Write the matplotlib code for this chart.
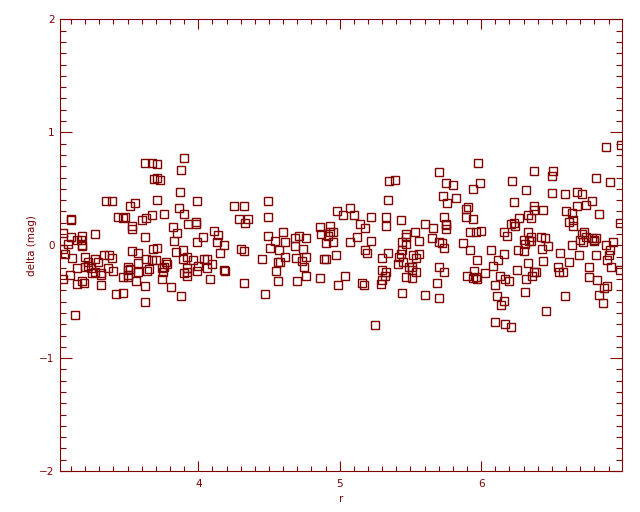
import matplotlib
matplotlib.use('Agg')
import matplotlib.pyplot as plt
from matplotlib.ticker import FixedLocator, MultipleLocator

# values
r = [3.62, 3.67, 3.71, 3.69, 3.71, 3.35, 3.39, 3.52, 3.55, 3.71,
     3.10, 3.10, 3.43, 3.47, 3.48, 3.63, 3.60, 3.67, 3.53, 3.53,
     3.04, 3.10, 3.14, 3.17, 3.18, 3.27, 3.18, 3.18, 3.08, 3.62,
     3.04, 3.06, 3.11, 3.20, 3.53, 3.57, 3.68, 3.71, 3.33, 3.37,
     3.39, 3.27, 3.29, 3.63, 3.67, 3.70, 3.57, 3.22, 3.20, 3.22,
     3.24, 3.14, 3.36, 3.40, 3.50, 3.50, 3.52, 3.57, 3.65, 3.64,
     3.25, 3.27, 3.31, 3.31, 3.09, 3.04, 3.47, 3.50, 3.50, 3.18,
     3.19, 3.14, 3.31, 3.56, 3.62, 3.42, 3.47, 3.62, 3.13,
     3.90, 3.88, 3.73, 3.87, 3.99, 4.25, 4.32, 3.86, 3.90, 3.76,
     4.29, 4.35, 4.33, 3.93, 3.98, 3.98, 3.82, 3.85, 4.11, 4.14,
     4.03, 3.99, 4.13, 3.83, 4.18, 4.30, 4.32, 3.84, 3.89, 4.15,
     3.92, 3.89, 3.96, 4.04, 4.06, 4.10, 4.00, 4.06, 3.77, 3.78,
     3.76, 3.74, 3.75, 3.92, 3.92, 3.99, 3.90, 3.92, 4.18, 4.19,
     4.08, 3.74, 4.32, 3.81, 3.88,
     4.49, 4.49, 4.98, 5.02, 4.86, 4.93, 4.87, 4.93, 4.95, 4.92,
     4.90, 4.95, 4.60, 4.49, 4.54, 4.51, 4.57, 4.61, 4.68, 4.71,
     4.76, 4.68, 4.74, 4.61, 4.45, 4.69, 4.76, 4.73, 4.56, 4.58,
     4.75, 4.55, 4.89, 4.90, 4.97, 4.76, 4.56, 4.70, 4.86, 4.99,
     5.04, 4.47,
     5.35, 5.39, 5.70, 5.34, 5.07, 5.10, 5.14, 5.18, 5.22, 5.33,
     5.33, 5.43, 5.60, 5.66, 5.53, 5.47, 5.47, 5.44, 5.47, 5.56,
     5.65, 5.70, 5.12, 5.07, 5.22, 5.18, 5.19, 5.44, 5.43, 5.42,
     5.34, 5.30, 5.52, 5.56, 5.54, 5.45, 5.41, 5.49, 5.51, 5.51,
     5.54, 5.30, 5.33, 5.32, 5.47, 5.51, 5.30, 5.29, 5.16, 5.17,
     5.44, 5.60, 5.70, 5.69, 5.70, 5.25,
     5.72, 5.74, 5.74, 5.98, 6.37, 5.75, 5.80, 5.94, 5.99, 6.22,
     6.32, 5.73, 5.76, 5.82, 5.89, 5.91, 5.89, 5.94, 6.23, 6.37,
     6.33, 6.37, 6.35, 6.27, 6.21, 6.23, 6.24, 5.74, 5.75, 5.75,
     5.75, 5.92, 5.96, 6.00, 6.16, 6.18, 6.33, 6.30, 6.35, 6.34,
     6.35, 6.31, 6.30, 6.26, 5.87, 5.92, 6.07, 6.16, 5.97, 6.12,
     6.08, 6.33, 6.25, 5.95, 5.90, 5.94, 5.96, 5.97, 6.03, 6.13,
     6.17, 6.20, 6.32, 6.37, 6.36, 6.10, 6.11, 6.16, 6.14, 6.31,
     6.10, 6.17, 6.21,
     6.88, 6.99, 6.51, 6.50, 6.81, 6.91, 6.50, 6.59, 6.68, 6.71,
     6.78, 6.74, 6.68, 6.44, 6.60, 6.64, 6.83, 6.62, 6.65, 6.65,
     6.98, 6.42, 6.45, 6.73, 6.71, 6.70, 6.72, 6.74, 6.78, 6.80,
     6.81, 6.80, 6.64, 6.88, 6.93, 6.91, 6.43, 6.47, 6.56, 6.69,
     6.81, 6.90, 6.89, 6.92, 6.62, 6.44, 6.54, 6.55, 6.58, 6.76,
     6.98, 6.39, 6.76, 6.82, 6.89, 6.87, 6.83, 6.86, 6.59, 6.46]

delta = [0.73, 0.73, 0.72, 0.59, 0.60, 0.39, 0.39, 0.35, 0.37, 0.40,
         0.23, 0.22, 0.25, 0.24, 0.25, 0.24, 0.22, 0.27, 0.17, 0.14,
         0.11, 0.07, 0.05, 0.05, 0.08, 0.10, -0.01, 0.00, 0.01, 0.07,
         -0.03, -0.08, -0.11, -0.10, -0.05, -0.07, -0.03, -0.02, -0.09, -0.09,
         -0.11, -0.12, -0.15, -0.12, -0.13, -0.13, -0.16, -0.15, -0.19, -0.18,
         -0.20, -0.20, -0.20, -0.23, -0.19, -0.22, -0.21, -0.24, -0.21, -0.23,
         -0.25, -0.24, -0.26, -0.25, -0.26, -0.30, -0.28, -0.28, -0.26, -0.32,
         -0.33, -0.34, -0.35, -0.32, -0.36, -0.43, -0.42, -0.50, -0.62,
         0.77, 0.67, 0.58, 0.47, 0.39, 0.35, 0.35, 0.33, 0.28, 0.28,
         0.23, 0.23, 0.20, 0.19, 0.21, 0.19, 0.16, 0.11, 0.13, 0.09,
         0.07, 0.03, 0.03, 0.04, 0.00, -0.03, -0.05, -0.06, -0.04, -0.07,
         -0.10, -0.12, -0.13, -0.12, -0.12, -0.17, -0.18, -0.20, -0.15, -0.17,
         -0.19, -0.20, -0.24, -0.20, -0.24, -0.23, -0.25, -0.27, -0.22, -0.23,
         -0.30, -0.30, -0.33, -0.37, -0.45,
         0.39, 0.25, 0.30, 0.27, 0.16, 0.17, 0.10, 0.12, 0.12, 0.08,
         0.02, 0.03, 0.12, 0.08, 0.04, -0.02, -0.04, 0.03, 0.06, 0.08,
         0.06, -0.01, -0.03, -0.10, -0.12, -0.11, -0.10, -0.14, -0.15, -0.15,
         -0.19, -0.23, -0.12, -0.12, -0.09, -0.27, -0.32, -0.32, -0.29, -0.35,
         -0.27, -0.43,
         0.57, 0.58, 0.65, 0.40, 0.33, 0.27, 0.19, 0.15, 0.25, 0.25,
         0.17, 0.22, 0.19, 0.15, 0.12, 0.10, 0.07, 0.03, 0.01, 0.04,
         0.06, 0.03, 0.07, 0.03, 0.04, -0.04, -0.07, -0.04, -0.08, -0.10,
         -0.07, -0.11, -0.09, -0.08, -0.11, -0.15, -0.17, -0.19, -0.19, -0.22,
         -0.24, -0.22, -0.24, -0.27, -0.28, -0.29, -0.31, -0.34, -0.33, -0.35,
         -0.42, -0.44, -0.19, -0.33, -0.47, -0.71,
         0.02, -0.02, -0.24, 0.73, 0.66, 0.55, 0.53, 0.50, 0.55, 0.57,
         0.49, 0.44, 0.37, 0.42, 0.32, 0.34, 0.25, 0.23, 0.38, 0.35,
         0.27, 0.31, 0.24, 0.24, 0.19, 0.20, 0.17, 0.25, 0.19, 0.18,
         0.14, 0.12, 0.12, 0.13, 0.12, 0.08, 0.12, 0.05, 0.07, 0.04,
         0.04, 0.01, -0.05, -0.04, 0.02, -0.04, -0.04, -0.08, -0.13, -0.13,
         -0.18, -0.16, -0.22, -0.23, -0.27, -0.29, -0.28, -0.30, -0.25, -0.27,
         -0.30, -0.32, -0.30, -0.24, -0.27, -0.35, -0.45, -0.49, -0.53, -0.41,
         -0.68, -0.70, -0.72,
         0.87, 0.89, 0.66, 0.61, 0.60, 0.56, 0.46, 0.45, 0.47, 0.45,
         0.39, 0.36, 0.35, 0.31, 0.30, 0.29, 0.28, 0.21, 0.22, 0.17,
         0.20, 0.07, 0.06, 0.12, 0.10, 0.05, 0.03, 0.07, 0.06, 0.05,
         0.06, 0.04, 0.00, 0.00, 0.03, -0.04, -0.03, -0.01, -0.07, -0.09,
         -0.09, -0.09, -0.13, -0.19, -0.15, -0.14, -0.19, -0.24, -0.24, -0.19,
         -0.22, -0.24, -0.28, -0.31, -0.36, -0.38, -0.44, -0.51, -0.45, -0.58]

x_ticks = [4, 5, 6]
y_ticks = [-2, -1, 0, 1, 2]

col = '#800000'

fig = plt.figure(figsize=(6.4, 5.12), dpi=100)
ax = fig.add_axes([0.094, 0.080, 0.878, 0.882])

ax.plot(r, delta, linestyle='none', marker='s', ms=5.2,
        mfc='none', mec=col, mew=1.0)

ax.set_xlim(3.023, 6.996)
ax.set_ylim(-2, 2)
ax.xaxis.set_major_locator(FixedLocator(x_ticks))
ax.xaxis.set_minor_locator(MultipleLocator(0.1))
ax.yaxis.set_major_locator(FixedLocator(y_ticks))
ax.yaxis.set_minor_locator(MultipleLocator(0.1))

ax.tick_params(which='both', direction='in', top=True, right=True,
               colors=col, labelsize=7.5, width=0.8)
ax.tick_params(axis='x', which='major', length=7.2, pad=6)
ax.tick_params(axis='x', which='minor', length=3.6)
ax.tick_params(axis='y', which='major', length=8.6, pad=4)
ax.tick_params(axis='y', which='minor', length=4.3)
for s in ax.spines.values():
    s.set_color(col)
    s.set_linewidth(0.8)

ax.set_xlabel('r', color=col, fontsize=7.5, labelpad=3)
ax.set_ylabel('delta (mag)', color=col, fontsize=7.5, labelpad=1.5)

fig.savefig('out.png', dpi=100)
